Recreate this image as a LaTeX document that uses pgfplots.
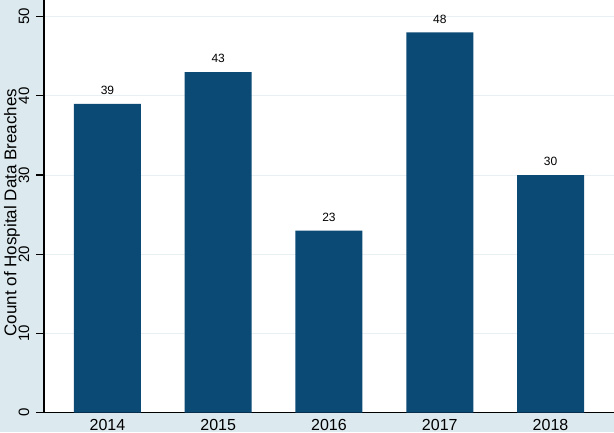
\documentclass[border=0pt]{standalone}
\usepackage{pgfplots}
\pgfplotsset{compat=1.18}
\usepackage{fontspec}
\setmainfont{Liberation Sans}
\definecolor{bgc}{RGB}{220,234,239}
\definecolor{barc}{RGB}{12,74,118}
\definecolor{gridc}{RGB}{232,240,243}
\begin{document}
\begin{tikzpicture}
\path[use as bounding box, fill=bgc] (-44pt,-19.3pt) rectangle (570pt,412.7pt);
\begin{axis}[
  at={(0pt,0pt)}, anchor=south west,
  scale only axis, width=570pt, height=412.7pt,
  xmin=0.427, xmax=5.573, ymin=0, ymax=52.1,
  axis background/.style={fill=white},
  axis lines*=left,
  axis line style={black, line width=1.3pt},
  /pgf/number format/assume math mode=true,
  xtick={1,2,3,4,5},
  xticklabels={2014,2015,2016,2017,2018},
  x tick style={draw=none},
  ytick={0,10,20,30,40,50},
  y tick style={black, line width=1.3pt},
  tick align=outside,
  major tick length=8pt,
  ymajorgrids,
  y grid style={gridc, line width=1pt},
  x tick label style={font=\fontsize{16}{18}\selectfont, anchor=north, inner sep=0pt, yshift=2pt},
  y tick label style={font=\fontsize{15}{17}\selectfont, xshift=-12pt, rotate=90, anchor=center, inner sep=0pt},
  ylabel={Count of Hospital Data Breaches},
  ylabel style={font=\fontsize{17}{19}\selectfont, at={(axis description cs:-0.0561,0.485)}, anchor=center, inner sep=0pt},
  ybar, bar width=67pt,
  nodes near coords,
  every node near coord/.append style={font=\fontsize{12}{14}\selectfont, black, anchor=south, inner sep=0pt, yshift=9pt},
]
\addplot[fill=barc, draw=none] coordinates {(1,39) (2,43) (3,23) (4,48) (5,30)};
\end{axis}
\end{tikzpicture}
\end{document}
